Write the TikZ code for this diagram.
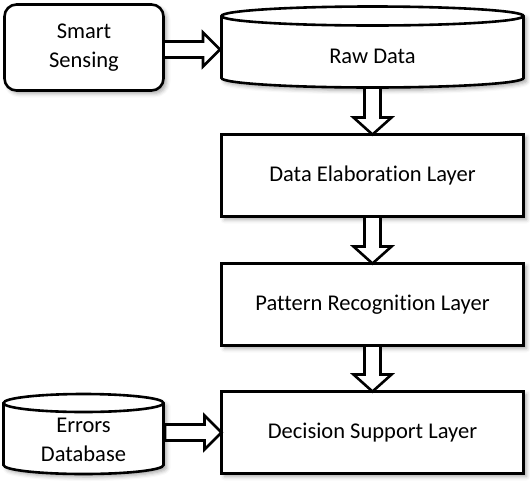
\documentclass[tikz,border=0pt]{standalone}
\usepackage{fontspec}
\setmainfont[Ligatures={NoCommon}]{Carlito}
\usetikzlibrary{calc,shadows.blur}
\begin{document}
\begin{tikzpicture}[x=1pt,y=1pt,
  shad/.style={blur shadow={shadow xshift=3pt, shadow yshift=-3pt, shadow blur radius=4pt, shadow opacity=35}},
  box/.style={draw, line width=2.6pt, fill=white, shad, minimum width=302pt, minimum height=82pt, outer sep=0pt,
    font=\fontsize{22.5}{28.5}\selectfont, align=center},
  txt/.style={outer sep=0pt, inner sep=0pt, font=\fontsize{22.5}{28.5}\selectfont, align=center},
  cyl/.style={draw, line width=2.6pt, fill=white, shad},
  barrow/.style={draw, line width=2.6pt, fill=white, line join=miter}
]
\useasboundingbox (0,0) rectangle (530,-488);
\newcommand\vbarrow[2]{\draw[barrow] let \p1=(#1), \p2=(#2) in
  (\x1-8pt,\y1) -- (\x1-8pt,\y2+17pt) -- (\x1-19pt,\y2+17pt) -- (\x1,\y2) -- (\x1+19pt,\y2+17pt) -- (\x1+8pt,\y2+17pt) -- (\x1+8pt,\y1) -- cycle;}
\newcommand\hbarrow[2]{\draw[barrow] let \p1=(#1), \p2=(#2) in
  (\x1,\y1+8pt) -- (\x2-17pt,\y1+8pt) -- (\x2-17pt,\y1+17pt) -- (\x2,\y1) -- (\x2-17pt,\y1-17pt) -- (\x2-17pt,\y1-8pt) -- (\x1,\y1-8pt) -- cycle;}

% Smart Sensing
\node[box, rounded corners=12pt, minimum width=159pt, minimum height=86pt] (ss) at (84,-47.5) {Smart\\Sensing};

% Raw Data cylinder
\filldraw[cyl] (221.5,-16) -- (221.5,-78) arc[start angle=180, end angle=360, x radius=151, y radius=9.5]
  -- (523.5,-16) arc[start angle=0, end angle=180, x radius=151, y radius=9.5] -- cycle;
\draw[line width=2.6pt] (221.5,-16) arc[start angle=180, end angle=360, x radius=151, y radius=9.5];
\node[txt, minimum width=305pt, minimum height=62pt] (raw) at (372.5,-56.5) {Raw Data};

% Layers
\node[box] (del) at (372.5,-175.5) {Data Elaboration Layer};
\node[box] (prl) at (372.5,-304.5) {Pattern Recognition Layer};
\node[box] (dsl) at (372.5,-432.5) {Decision Support Layer};

% Errors Database cylinder
\filldraw[cyl] (3.5,-403) -- (3.5,-465) arc[start angle=180, end angle=360, x radius=80, y radius=9]
  -- (163.5,-403) arc[start angle=0, end angle=180, x radius=80, y radius=9] -- cycle;
\draw[line width=2.6pt] (3.5,-403) arc[start angle=180, end angle=360, x radius=80, y radius=9];
\node[txt, minimum width=163pt, minimum height=60pt] (err) at (83.5,-440) {Errors\\Database};

% Connectors
\coordinate (ssout) at ($(ss.east)+(0,-2)$);
\hbarrow{ssout}{ssout -| raw.west}
\vbarrow{raw.south}{del.north}
\vbarrow{del.south}{prl.north}
\vbarrow{prl.south}{dsl.north}
\hbarrow{err.east |- dsl.west}{dsl.west}
\end{tikzpicture}
\end{document}
